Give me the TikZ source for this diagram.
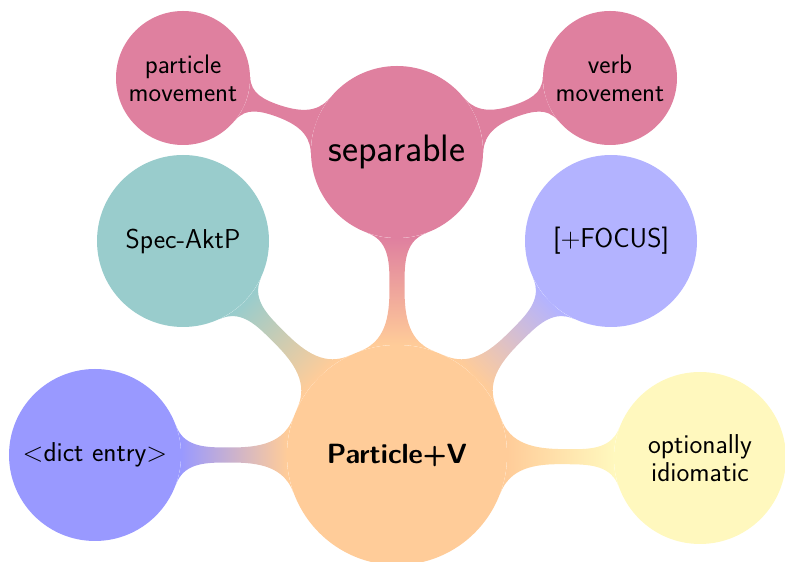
\documentclass[tikz,border=0pt]{standalone}
\usepackage{fontspec}
\usetikzlibrary{mindmap,backgrounds}
\definecolor{cRoot}{HTML}{FFCC99}
\definecolor{cDict}{HTML}{9999FF}
\definecolor{cIdiom}{HTML}{FFF8BE}
\definecolor{cSpec}{HTML}{99CCCC}
\definecolor{cFocus}{HTML}{B3B3FF}
\definecolor{cSep}{HTML}{DF809F}
\tikzset{
  bubble/.style={circle, inner sep=0pt, align=center, text=black, draw=none},
  rootbubble/.style={bubble, minimum size=220pt, font=\sffamily\bfseries\fontsize{27.8}{28}\selectfont},
  lvlone/.style={bubble, minimum size=172pt, font=\sffamily\fontsize{27.3}{28}\selectfont},
  lvltwo/.style={bubble, minimum size=134pt, font=\sffamily\fontsize{26.8}{28}\selectfont},
  barone/.style={line width=16pt},
  bartwo/.style={line width=10pt}
}
\begin{document}
\begin{tikzpicture}[x=1pt,y=1pt]
\useasboundingbox (0,0) rectangle (785,562);
\node[rootbubble, fill=cRoot] (root) at (397,107) {Particle+V};
\node[lvlone, fill=cDict] (dict) at (95,107) {<dict entry>};
\node[lvlone, fill=cIdiom] (idiom) at (700,104) {optionally\\idiomatic};
\node[lvlone, fill=cSpec] (spec) at (183,321) {Spec-AktP};
\node[lvlone, fill=cFocus] (focus) at (611,321) {[+FOCUS]};
\node[lvlone, fill=cSep, font=\sffamily\fontsize{38.2}{40}\selectfont] (sep) at (397,410) {separable};
\node[lvltwo, fill=cSep] (pm) at (183,484) {particle\\movement};
\node[lvltwo, fill=cSep] (vm) at (610,484) {verb\\movement};
\begin{scope}[on background layer]
\path[barone] (root) to[circle connection bar switch color=from (cRoot) to (cDict)] (dict);
\path[barone] (root) to[circle connection bar switch color=from (cRoot) to (cIdiom)] (idiom);
\path[barone] (root) to[circle connection bar switch color=from (cRoot) to (cSpec)] (spec);
\path[barone] (root) to[circle connection bar switch color=from (cRoot) to (cFocus)] (focus);
\path[barone] (root) to[circle connection bar switch color=from (cRoot) to (cSep)] (sep);
\path[bartwo] (sep) to[circle connection bar switch color=from (cSep) to (cSep)] (pm);
\path[bartwo] (sep) to[circle connection bar switch color=from (cSep) to (cSep)] (vm);
\end{scope}
\end{tikzpicture}
\end{document}
